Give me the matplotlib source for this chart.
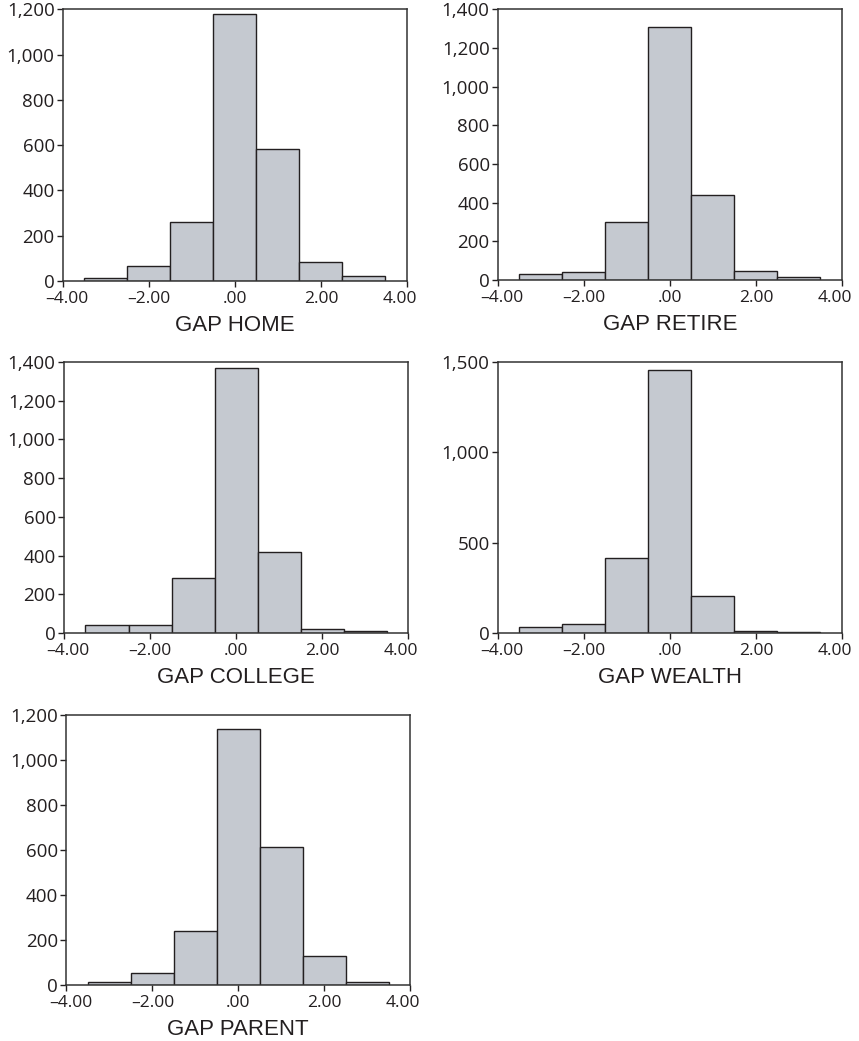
import matplotlib.pyplot as plt
import matplotlib.transforms as mtransforms
from matplotlib.ticker import FuncFormatter

# bin centres (width 1.0) shared by every panel
centres = [-3, -2, -1, 0, 1, 2, 3]

home = [15, 65, 260, 1178, 582, 86, 22]
retire = [31, 42, 300, 1310, 438, 45, 14]
college = [40, 40, 286, 1370, 418, 21, 10]
wealth = [31, 50, 417, 1456, 207, 9, 4]
parent = [15, 52, 238, 1136, 612, 127, 12]

titles = ["GAP HOME", "GAP RETIRE", "GAP COLLEGE", "GAP WEALTH", "GAP PARENT"]
series = [home, retire, college, wealth, parent]
y_max = [1200, 1400, 1400, 1500, 1200]
y_step = [200, 200, 200, 500, 200]

x_ticks = [-4, -2, 0, 2, 4]
x_ticklabels = ["\u20134.00", "\u20132.00", ".00", "2.00", "4.00"]

# axes boxes in figure fractions [left, bottom, width, height]
boxes = [
    [0.0733, 0.7301, 0.4005, 0.2608],
    [0.5797, 0.7310, 0.4005, 0.2599],
    [0.0745, 0.3919, 0.4005, 0.2603],
    [0.5797, 0.3919, 0.4005, 0.2603],
    [0.0774, 0.0538, 0.4000, 0.2594],
]

ink = "#231f20"
bar_fill = "#c5c9d0"

fig = plt.figure(figsize=(8.59, 10.41), dpi=100)

for box, vals, title, ymax, step in zip(boxes, series, titles, y_max, y_step):
    ax = fig.add_axes(box)
    ax.bar(centres, vals, width=1.0, color=bar_fill, edgecolor=ink, linewidth=1.0)
    ax.set_xlim(-4, 4)
    ax.set_ylim(0, ymax)
    ax.set_xticks(x_ticks)
    ax.set_xticklabels(x_ticklabels)
    ax.set_yticks(range(0, ymax + 1, step))
    ax.yaxis.set_major_formatter(FuncFormatter(lambda v, p: f"{int(v):,}"))
    ax.tick_params(direction="out", length=4, width=1.0, color=ink, labelcolor=ink)
    ax.tick_params(axis="x", labelsize=12.5, pad=3)
    ax.tick_params(axis="y", labelsize=13.5, pad=2)
    for lbl in ax.get_xticklabels() + ax.get_yticklabels():
        lbl.set_family("Open Sans")
    # pull the end labels of the x axis slightly inwards
    xl = ax.get_xticklabels()
    xl[0].set_transform(xl[0].get_transform() + mtransforms.ScaledTranslation(3 / 72, 0, fig.dpi_scale_trans))
    xl[-1].set_transform(xl[-1].get_transform() + mtransforms.ScaledTranslation(-5 / 72, 0, fig.dpi_scale_trans))
    for sp in ax.spines.values():
        sp.set_color("#333333")
        sp.set_linewidth(1.1)
    ax.set_xlabel(title, fontsize=16, family="Liberation Sans", color=ink, labelpad=6)

fig.savefig("out.png", dpi=100)
